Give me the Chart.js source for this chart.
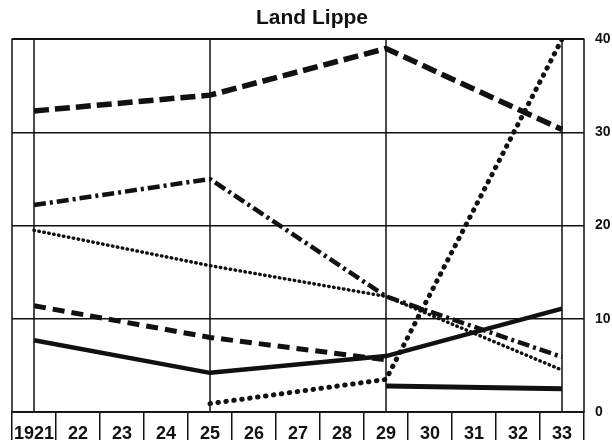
<!DOCTYPE html>
<html>
<head>
<meta charset="utf-8">
<script src="https://cdn.jsdelivr.net/npm/chart.js@4/dist/chart.umd.min.js"></script>
<style>
  html, body { margin: 0; padding: 0; background: #fff; }
  #wrap { width: 612px; height: 447px; }
</style>
</head>
<body>
<div id="wrap"><canvas id="myChart" width="612" height="447"></canvas></div>
<script>
// years on the axis
var years = ['1921', '22', '23', '24', '25', '26', '27', '28', '29', '30', '31', '32', '33'];
// vertical lines through the plot
var majorYears = ['1921', '25', '29', '33'];
var yTicks = [0, 10, 20, 30, 40];

// values (null = no value that year)
var longDash = [32.3, null, null, null, 34.0, null, null, null, 39.0, null, null, null, 30.3];
var dashDot  = [22.2, null, null, null, 25.0, null, null, null, 12.4, null, null, null, 5.9];
var fineDots = [19.5, null, null, null, 15.7, null, null, null, 12.4, null, null, null, 4.5];
var bigDots  = [null, null, null, null, 0.9, null, null, null, 3.5, null, null, null, 40.0];
var solidA   = [7.7, null, null, null, 4.2, null, null, null, 6.0, null, null, null, 11.1];
var dashed   = [11.4, null, null, null, 8.0, null, null, null, 5.6, null, null, null, null];
var solidB   = [null, null, null, null, null, null, null, null, 2.8, null, null, null, 2.5];

var ink = '#111';
var font = "'Liberation Sans', Arial, Helvetica, sans-serif";

// frame + the four vertical lines inside the plot
var frame = {
    id: 'frame',
    beforeDatasetsDraw: function (chart) {
        var ctx = chart.ctx;
        var a = chart.chartArea;
        var x = chart.scales.x;
        ctx.save();
        ctx.strokeStyle = ink;
        ctx.lineWidth = 1.5;
        ctx.strokeRect(a.left, a.top, a.right - a.left, a.bottom - a.top);
        majorYears.forEach(function (yr) {
            var px = x.getPixelForValue(years.indexOf(yr));
            ctx.beginPath();
            ctx.moveTo(px, a.top);
            ctx.lineTo(px, a.bottom);
            ctx.stroke();
        });
        ctx.restore();
    }
};

function line(data, width, dash, cap) {
    return {
        data: data,
        borderColor: ink,
        borderWidth: width,
        borderDash: dash,
        borderCapStyle: cap || 'butt',
        borderJoinStyle: 'round',
        pointRadius: 0,
        tension: 0,
        spanGaps: true,
        fill: false
    };
}

var ctx = document.getElementById('myChart').getContext('2d');
var chart = new Chart(ctx, {
    type: 'line',
    data: {
        labels: years,
        datasets: [
            line(longDash, 5.5, [15, 6]),
            line(dashDot, 4.5, [12, 4, 3, 4]),
            line(fineDots, 3.5, [0.5, 4.5], 'round'),
            line(bigDots, 5, [0.5, 7.5], 'round'),
            line(solidA, 4.5, []),
            line(dashed, 5, [12, 7]),
            line(solidB, 5, [])
        ]
    },
    options: {
        responsive: false,
        animation: false,
        layout: { padding: { left: 12, right: 0, top: 0, bottom: 0 } },
        plugins: {
            legend: { display: false },
            tooltip: { enabled: false },
            title: {
                display: true,
                text: 'Land Lippe',
                color: ink,
                font: { family: font, size: 21, weight: 'bold' },
                padding: { top: 6, bottom: 8 }
            }
        },
        scales: {
            x: {
                type: 'category',
                offset: true,
                grid: {
                    offset: true,
                    drawOnChartArea: false,
                    drawTicks: true,
                    tickLength: 28,
                    color: ink,
                    lineWidth: 1.5
                },
                border: { display: true, color: ink, width: 1.5 },
                ticks: {
                    color: ink,
                    autoSkip: false,
                    maxRotation: 0,
                    padding: -17,
                    font: { family: font, size: 18, weight: 'bold' }
                },
                afterFit: function (s) { s.height = 35; }
            },
            y: {
                position: 'right',
                min: 0,
                max: 40,
                afterBuildTicks: function (s) {
                    s.ticks = yTicks.map(function (v) { return { value: v }; });
                },
                grid: { color: ink, lineWidth: 1.5, drawTicks: false },
                border: { display: false },
                ticks: {
                    color: ink,
                    padding: 11,
                    font: { family: font, size: 14, weight: 'bold' }
                },
                afterFit: function (s) { s.width = 28; }
            }
        }
    },
    plugins: [frame]
});
</script>
</body>
</html>
